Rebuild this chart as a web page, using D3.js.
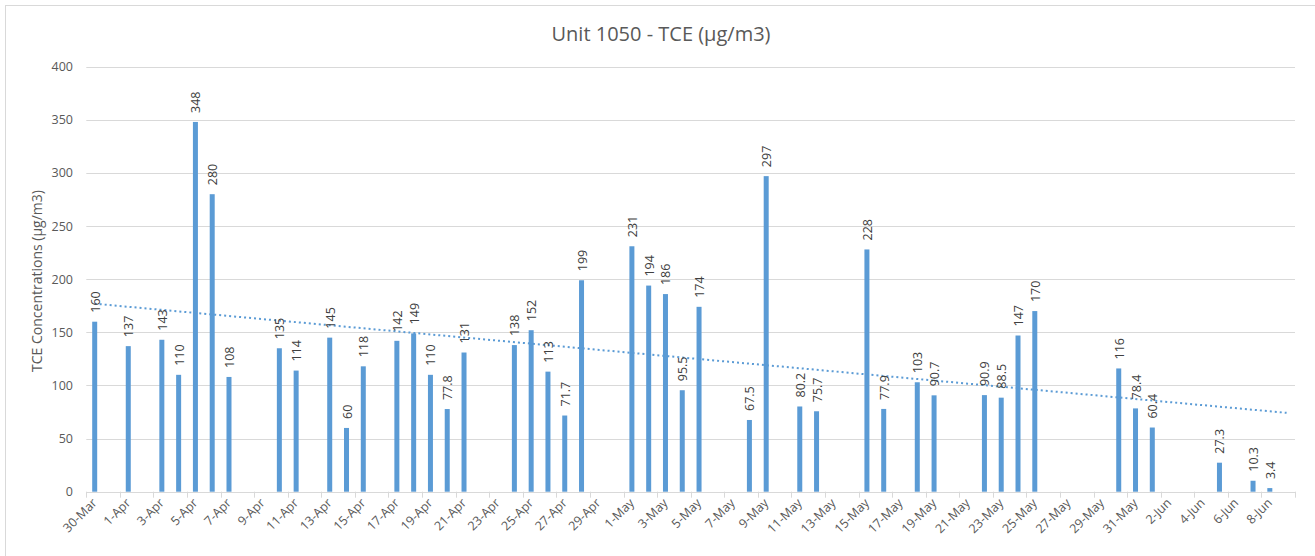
<!DOCTYPE html>
<html>
<head>
<meta charset="utf-8">
<script src="https://cdn.jsdelivr.net/npm/d3@7"></script>
<style>
  html, body { margin: 0; padding: 0; background: #fff; }
  svg { display: block; font-family: "Open Sans", "Noto Sans", sans-serif; }
</style>
</head>
<body>
<svg id="chart" width="1315" height="556"></svg>
<script>
// ---- data ----
const title = "Unit 1050 - TCE (µg/m3)";
const yTitle = "TCE Concentrations (µg/m3)";
const sampleDates = [
  "2020-03-30","2020-04-01","2020-04-03","2020-04-04","2020-04-05","2020-04-06","2020-04-07",
  "2020-04-10","2020-04-11","2020-04-13","2020-04-14","2020-04-15","2020-04-17","2020-04-18",
  "2020-04-19","2020-04-20","2020-04-21","2020-04-24","2020-04-25","2020-04-26","2020-04-27",
  "2020-04-28","2020-05-01","2020-05-02","2020-05-03","2020-05-04","2020-05-05","2020-05-08",
  "2020-05-09","2020-05-11","2020-05-12","2020-05-15","2020-05-16","2020-05-18","2020-05-19",
  "2020-05-22","2020-05-23","2020-05-24","2020-05-25","2020-05-30","2020-05-31","2020-06-01",
  "2020-06-05","2020-06-07","2020-06-08"
];
const tceValues = [
  160,137,143,110,348,280,108,
  135,114,145,60,118,142,149,
  110,77.8,131,138,152,113,71.7,
  199,231,194,186,95.5,174,67.5,
  297,80.2,75.7,228,77.9,103,90.7,
  90.9,88.5,147,170,116,78.4,60.4,
  27.3,10.3,3.4
];
const axisStart = "2020-03-30";
const axisEnd = "2020-06-10";   // exclusive end (last category 9-Jun)
const yTicks = [0,50,100,150,200,250,300,350,400];

// ---- layout ----
const parse = d3.timeParse("%Y-%m-%d");
const svg = d3.select("#chart");
const W = 1315, H = 556;
const plot = { left: 86.3, right: 1295, top: 66.7, bottom: 491.7 };
const blue = "#5B9BD5";
const txt = "#595959";

svg.append("rect").attr("x", 5.5).attr("y", 5.5).attr("width", W).attr("height", H)
  .attr("fill", "#fff").attr("stroke", "#d9d9d9").attr("stroke-width", 1);

const t0 = parse(axisStart), t1 = parse(axisEnd);
const x = d3.scaleTime().domain([t0, t1]).range([plot.left, plot.right]);
const dayW = x(d3.timeDay.offset(t0, 1)) - x(t0);
const y = d3.scaleLinear().domain([0, 400]).range([plot.bottom, plot.top]);

const data = sampleDates.map((d, i) => ({ date: parse(d), v: tceValues[i] }));
const cx = d => x(d) + dayW / 2;

// gridlines
svg.append("g").selectAll("line").data(yTicks.filter(v => v > 0)).join("line")
  .attr("x1", plot.left).attr("x2", plot.right)
  .attr("y1", d => Math.round(y(d)) + 0.5).attr("y2", d => Math.round(y(d)) + 0.5)
  .attr("stroke", "#d9d9d9").attr("stroke-width", 1);

// y axis labels
svg.append("g").selectAll("text").data(yTicks).join("text")
  .attr("x", 73).attr("y", d => y(d) + 4.5)
  .attr("text-anchor", "end").attr("fill", txt).attr("font-size", 12.5)
  .text(d => d);

// bars
const barW = 5;
svg.append("g").selectAll("rect").data(data).join("rect")
  .attr("x", d => cx(d.date) - barW / 2)
  .attr("width", barW)
  .attr("y", d => y(d.v))
  .attr("height", d => y(0) - y(d.v))
  .attr("fill", blue);

// x axis line and ticks
const xa = svg.append("g");
xa.append("line").attr("x1", plot.left).attr("x2", plot.right)
  .attr("y1", Math.round(plot.bottom) + 0.5).attr("y2", Math.round(plot.bottom) + 0.5)
  .attr("stroke", "#d9d9d9").attr("stroke-width", 1);
const tickDays = d3.timeDay.range(t0, d3.timeDay.offset(t1, 1)).filter((d, i) => i % 2 === 0);
xa.selectAll("line.tk").data(tickDays).join("line").attr("class", "tk")
  .attr("x1", d => Math.round(x(d)) + 0.5).attr("x2", d => Math.round(x(d)) + 0.5)
  .attr("y1", plot.bottom).attr("y2", plot.bottom + 6)
  .attr("stroke", "#d9d9d9").attr("stroke-width", 1);
const labelDays = tickDays.filter(d => d < t1);
const fmt = d3.timeFormat("%-d-%b");
xa.selectAll("text").data(labelDays).join("text")
  .attr("transform", d => `translate(${cx(d) + 3},${plot.bottom + 12}) rotate(-45)`)
  .attr("text-anchor", "end").attr("fill", txt).attr("font-size", 12.5)
  .text(d => fmt(d));

// trendline (least squares on day index)
const dayIdx = d => d3.timeDay.count(t0, d);
const xs = data.map(d => dayIdx(d.date)), ys = data.map(d => d.v);
const mx = d3.mean(xs), my = d3.mean(ys);
const slope = d3.sum(xs.map((xi, i) => (xi - mx) * (ys[i] - my))) / d3.sum(xs.map(xi => (xi - mx) ** 2));
const icpt = my - slope * mx;
const lastIdx = d3.timeDay.count(t0, t1) - 1;
const trendPts = [0, lastIdx].map(i => [x(d3.timeDay.offset(t0, i)) + dayW / 2, y(icpt + slope * i)]);
svg.append("path").attr("d", d3.line()(trendPts))
  .attr("fill", "none").attr("stroke", blue).attr("stroke-width", 2)
  .attr("stroke-dasharray", "2,3");

// data labels
svg.append("g").selectAll("text").data(data).join("text")
  .attr("transform", d => `translate(${cx(d.date) + 5},${y(d.v) - 9}) rotate(-90)`)
  .attr("text-anchor", "start").attr("fill", "#404040").attr("font-size", 12.5)
  .text(d => d.v);

// titles
svg.append("text").attr("x", 661).attr("y", 41).attr("text-anchor", "middle")
  .attr("fill", txt).attr("font-size", 20).text(title);
svg.append("text").attr("transform", `translate(41.5,281) rotate(-90)`)
  .attr("text-anchor", "middle").attr("fill", txt).attr("font-size", 14).text(yTitle);
</script>
</body>
</html>
